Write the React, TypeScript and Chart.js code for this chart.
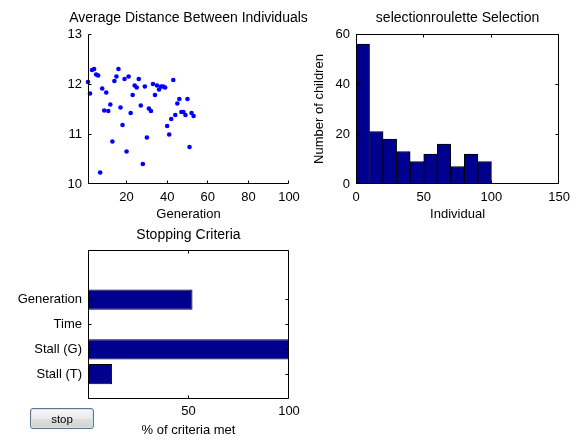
import React, { useEffect, useRef } from 'react';
import { Chart, registerables } from 'chart.js';

Chart.register(...registerables);

const FONT = '"Liberation Sans", Arial, Helvetica, sans-serif';

// ---- Data: Average Distance Between Individuals ----
const generations = [
  1, 2, 3, 4, 5, 6, 7, 8, 9, 10, 11, 12, 13, 14, 15, 16, 17, 18, 19, 20,
  21, 22, 23, 24, 25, 26, 27, 28, 29, 30, 31, 32, 33, 34, 35, 36, 37, 38, 39, 40,
  41, 42, 43, 44, 45, 46, 47, 48, 49, 50, 51, 52, 53,
];
const avgDistance = [
  12.04, 11.81, 12.28, 12.30, 12.19, 12.17, 10.23, 11.91, 11.47, 11.83,
  11.46, 11.59, 10.85, 12.06, 12.15, 12.30, 11.53, 11.18, 12.10, 10.65,
  12.15, 11.42, 11.78, 11.97, 11.93, 12.10, 11.57, 10.40, 11.95, 10.93,
  11.51, 11.46, 12.00, 11.78, 11.97, 11.89, 11.95, 11.95, 11.93, 11.16,
  10.99, 11.30, 12.08, 11.38, 11.61, 11.70, 11.44, 11.44, 11.38, 11.70,
  10.74, 11.42, 11.36,
];
const distanceXTicks = [20, 40, 60, 80, 100];
const distanceYTicks = [10, 11, 12, 13];

// ---- Data: selectionroulette Selection histogram ----
const histCenters = [5, 15, 25, 35, 45, 55, 65, 75, 85, 95];
const histCounts = [56, 21, 18, 13, 9, 12, 16, 7, 12, 9];
const histXTicks = [0, 50, 100, 150];
const histYTicks = [0, 20, 40, 60];

// ---- Data: Stopping Criteria ----
const criteriaLabels = ['Generation', 'Time', 'Stall (G)', 'Stall (T)'];
const criteriaPositions = [4, 3, 2, 1];
const criteriaValues = [52, 0, 100, 12];
const criteriaXTicks = [0, 50, 100];

const W = 576;
const H = 441;

function axesPlugin(box: boolean, title: string, titleY: number) {
  return {
    id: 'matlabAxes',
    afterDatasetsDraw(chart: any) {
      const { ctx, chartArea: a, scales } = chart;
      const L = Math.round(a.left) + 0.5;
      const R = Math.round(a.right) - 0.5;
      const T = Math.round(a.top) + 0.5;
      const B = Math.round(a.bottom) - 0.5;
      const len = 3;
      ctx.save();
      ctx.strokeStyle = '#000';
      ctx.lineWidth = 1;
      ctx.beginPath();
      if (box) {
        ctx.rect(L, T, R - L, B - T);
      } else {
        ctx.moveTo(L, T);
        ctx.lineTo(L, B);
        ctx.lineTo(R, B);
      }
      ctx.stroke();
      ctx.beginPath();
      const xs = scales.x;
      const ys = scales.y;
      xs.ticks.forEach((t: any) => {
        let p = Math.floor(xs.getPixelForValue(t.value)) + 0.5;
        p = Math.min(Math.max(p, L), R);
        ctx.moveTo(p, B);
        ctx.lineTo(p, B - len);
        if (box) {
          ctx.moveTo(p, T);
          ctx.lineTo(p, T + len);
        }
      });
      ys.ticks.forEach((t: any) => {
        let p = Math.floor(ys.getPixelForValue(t.value)) + 0.5;
        p = Math.min(Math.max(p, T), B);
        ctx.moveTo(L, p);
        ctx.lineTo(L + len, p);
        if (box) {
          ctx.moveTo(R, p);
          ctx.lineTo(R - len, p);
        }
      });
      ctx.stroke();
      // title, centred over the axes, allowed to overflow like MATLAB
      ctx.fillStyle = '#000';
      ctx.font = `14px ${FONT}`;
      ctx.textAlign = 'center';
      ctx.textBaseline = 'middle';
      ctx.fillText(title, (a.left + a.right) / 2, titleY);
      ctx.restore();
    },
  };
}

function linScale(
  min: number,
  max: number,
  ticks: number[],
  opts: {
    horizontal: boolean;
    size: number;
    pad: number;
    title?: string;
    callback?: (v: any) => string;
  }
) {
  const s: any = {
    type: 'linear',
    min,
    max,
    offset: false,
    afterBuildTicks: (sc: any) => {
      sc.ticks = ticks.map((v) => ({ value: v }));
    },
    afterFit: (sc: any) => {
      if (opts.horizontal) sc.height = opts.size;
      else sc.width = opts.size;
    },
    grid: { display: false, drawTicks: false, offset: false },
    border: { display: false },
    ticks: {
      color: '#000',
      font: { family: FONT, size: 13 },
      padding: opts.pad,
      maxRotation: 0,
      minRotation: 0,
      autoSkip: false,
    },
    title: {
      display: !!opts.title,
      text: opts.title || '',
      color: '#000',
      font: { family: FONT, size: 13 },
      padding: 0,
    },
  };
  if (opts.callback) s.ticks.callback = opts.callback;
  return s;
}

export default function App() {
  const c1 = useRef<HTMLCanvasElement>(null);
  const c2 = useRef<HTMLCanvasElement>(null);
  const c3 = useRef<HTMLCanvasElement>(null);

  useEffect(() => {
    const charts: Chart[] = [];
    const basePlugins = {
      legend: { display: false },
      tooltip: { enabled: false },
      title: { display: false },
    };

    // Chart 1: scatter
    charts.push(
      new Chart(c1.current as HTMLCanvasElement, {
        type: 'scatter',
        data: {
          datasets: [
            {
              data: generations.map((g, i) => ({ x: g, y: avgDistance[i] })),
              backgroundColor: '#0000FF',
              borderWidth: 0,
              pointRadius: 2.3,
              clip: false as any,
            },
          ],
        },
        options: {
          responsive: false,
          animation: false,
          events: [],
          layout: { padding: { left: 0, top: 34, right: W - 289, bottom: H - 184 - 37.8 } },
          plugins: basePlugins,
          scales: {
            x: linScale(1, 100, distanceXTicks, { horizontal: true, size: 37.8, pad: 6, title: 'Generation' }),
            y: linScale(10, 13, distanceYTicks, { horizontal: false, size: 88, pad: 6 }),
          },
        },
        plugins: [axesPlugin(false, 'Average Distance Between Individuals', 18.6)],
      })
    );

    // Chart 2: histogram
    charts.push(
      new Chart(c2.current as HTMLCanvasElement, {
        type: 'bar',
        data: {
          datasets: [
            {
              data: histCenters.map((c, i) => ({ x: c, y: histCounts[i] })),
              backgroundColor: '#00008F',
              borderColor: '#000',
              borderWidth: 1,
              borderSkipped: false,
              barPercentage: 1,
              categoryPercentage: 1,
            },
          ],
        },
        options: {
          responsive: false,
          animation: false,
          events: [],
          layout: { padding: { left: 312, top: 34, right: W - 560, bottom: H - 184 - 37.8 } },
          plugins: basePlugins,
          scales: {
            x: linScale(0, 150, histXTicks, { horizontal: true, size: 37.8, pad: 6, title: 'Individual' }),
            y: linScale(0, 60, histYTicks, { horizontal: false, size: 44, pad: 6, title: 'Number of children' }),
          },
        },
        plugins: [axesPlugin(true, 'selectionroulette Selection', 18.6)],
      })
    );

    // Chart 3: stopping criteria
    charts.push(
      new Chart(c3.current as HTMLCanvasElement, {
        type: 'bar',
        data: {
          datasets: [
            {
              data: criteriaPositions.map((p, i) => ({ x: criteriaValues[i], y: p })),
              backgroundColor: '#00008F',
              borderColor: '#000',
              borderWidth: 1,
              borderSkipped: false,
              barPercentage: 0.82,
              categoryPercentage: 1,
            },
          ],
        },
        options: {
          indexAxis: 'y',
          responsive: false,
          animation: false,
          events: [],
          layout: { padding: { left: 0, top: 250, right: W - 289, bottom: H - 399 - 38.8 } },
          plugins: basePlugins,
          scales: {
            x: linScale(0, 100, criteriaXTicks, {
              horizontal: true,
              size: 38.8,
              pad: 5,
              title: '% of criteria met',
              callback: (v: any) => (Number(v) === 0 ? '' : String(v)),
            }),
            y: linScale(0, 6, criteriaPositions.slice().sort(), {
              horizontal: false,
              size: 88,
              pad: 6,
              callback: (v: any) => {
                const idx = criteriaPositions.indexOf(Number(v));
                return idx >= 0 ? criteriaLabels[idx] : '';
              },
            }),
          },
        },
        plugins: [axesPlugin(true, 'Stopping Criteria', 235)],
      })
    );

    return () => {
      charts.forEach((c) => c.destroy());
    };
  }, []);

  const canvasStyle: React.CSSProperties = {
    position: 'absolute',
    left: 0,
    top: 0,
    width: W,
    height: H,
    pointerEvents: 'none',
  };

  return (
    <div
      style={{
        position: 'fixed',
        left: 0,
        top: 0,
        width: W,
        height: H,
        background: '#fff',
        overflow: 'hidden',
      }}
    >
      <canvas ref={c1} width={W} height={H} style={canvasStyle} />
      <canvas ref={c2} width={W} height={H} style={canvasStyle} />
      <canvas ref={c3} width={W} height={H} style={canvasStyle} />
      <button
        style={{
          position: 'absolute',
          left: 30,
          top: 408,
          width: 64,
          height: 21,
          padding: 0,
          margin: 0,
          font: `11.5px ${FONT}`,
          color: '#000',
          border: '1px solid #5b7391',
          borderRadius: 3,
          background: 'linear-gradient(#f7f7f7, #ebebeb 50%, #dedede 51%, #d2d2d2)',
          boxShadow: 'inset 0 0 0 1px #cfe6f7',
          zIndex: 2,
        }}
      >
        stop
      </button>
    </div>
  );
}
